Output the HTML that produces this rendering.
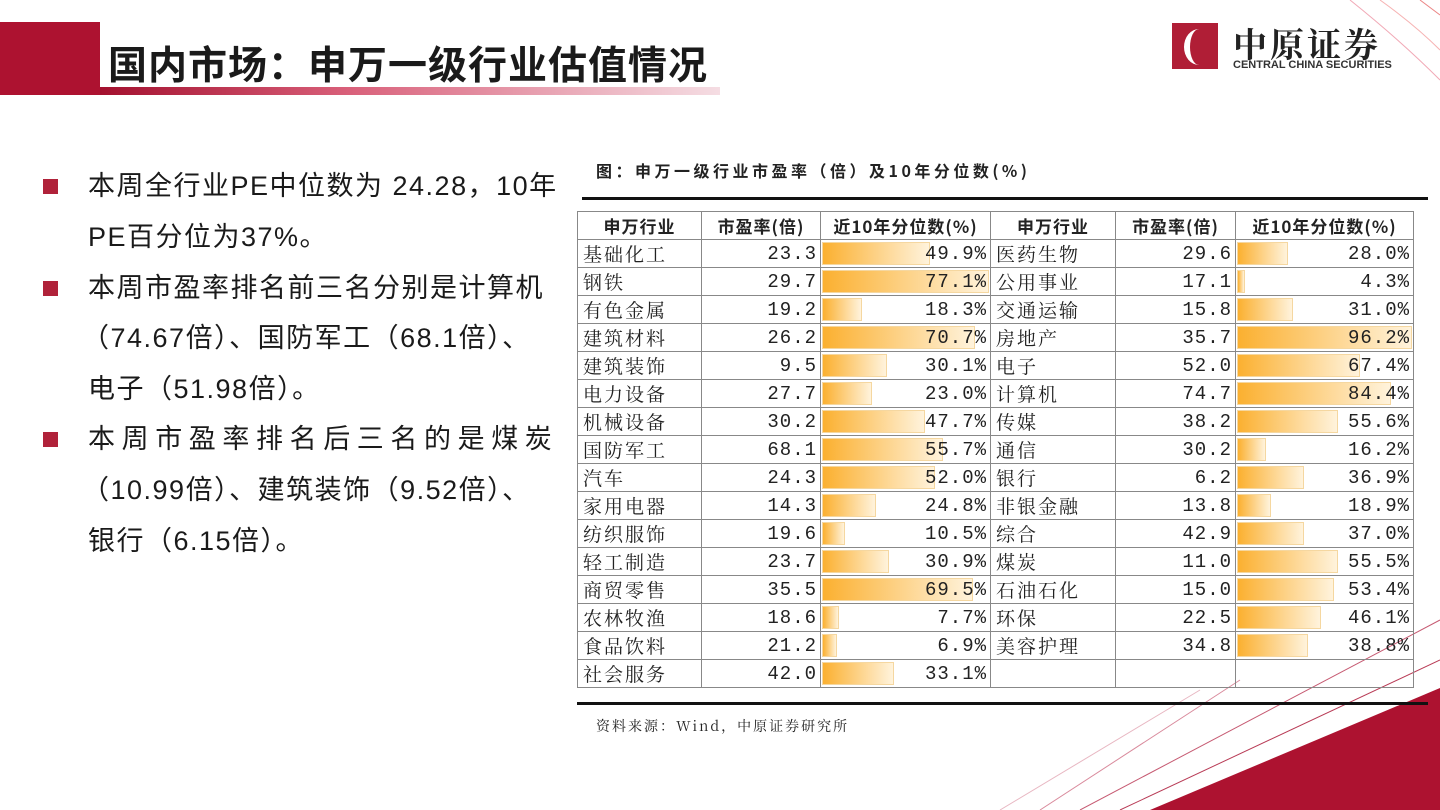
<!DOCTYPE html>
<html><head><meta charset="utf-8"><style>
*{margin:0;padding:0;box-sizing:border-box}
body{width:1440px;height:810px;position:relative;overflow:hidden;background:#fff;font-family:"Liberation Sans","Noto Sans CJK SC",sans-serif;color:#222}
.abs{position:absolute}
.ln{position:absolute;left:88px;font-size:27px;letter-spacing:1.5px;line-height:32px;white-space:nowrap;color:#1a1a1a}
.sq{position:absolute;left:43px;width:15px;height:15px;background:#b0223a}
table{position:absolute;left:577px;top:211px;border-collapse:collapse;font-family:"Noto Serif CJK SC","Liberation Serif",serif;font-size:19px}
td{border:1px solid #888;height:28px;padding:0 5px;white-space:nowrap;position:relative;line-height:26px;letter-spacing:2px}
th{border:1px solid #888;height:28px;font-family:"Noto Sans CJK SC",sans-serif;font-size:17px;font-weight:bold;white-space:nowrap;letter-spacing:1px}
td.n{text-align:right;font-family:"Liberation Mono","Noto Serif CJK SC",monospace;font-size:19px;letter-spacing:1px;padding-right:3px}
.bar{position:absolute;left:1px;top:2px;bottom:2px;background:linear-gradient(90deg,#fbb030,#fff3dc);border:1px solid #f5d7a0}
td span{position:relative}
</style></head><body>
<div class="abs" style="left:0;top:22px;width:100px;height:73px;background:#ad1230"></div>
<div class="abs" style="left:100px;top:87px;width:620px;height:8px;background:linear-gradient(90deg,#a3102e,#d9607a 40%,#f5dde3)"></div>
<div class="abs" style="left:108px;top:38px;font-size:39px;font-weight:bold;color:#1a1a1a;font-family:'Noto Sans CJK SC',sans-serif;line-height:50px;letter-spacing:1px">国内市场：申万一级行业估值情况</div>
<div class="abs" style="left:1172px;top:23px;width:46px;height:46px;background:#b01e36"><div style="position:absolute;left:12px;top:6px;width:30px;height:36px;border-left:6px solid #fff;border-radius:50% 0 0 50%"></div></div>
<div class="abs" style="left:1233px;top:18px;font-size:34px;font-family:'Noto Serif CJK SC',serif;font-weight:bold;letter-spacing:3px;color:#222">中原证券</div>
<div class="abs" style="left:1233px;top:59px;font-size:11px;font-weight:bold;color:#333">CENTRAL CHINA SECURITIES</div>
<svg class="abs" style="left:0;top:0" width="1440" height="810">
<path d="M1350 0 Q1400 40 1440 80" stroke="#f1a9b6" fill="none"/>
<path d="M1380 0 Q1415 25 1440 50" stroke="#e66" fill="none" opacity=".5"/>
<path d="M1420 0 L1440 15" stroke="#d33" fill="none" opacity=".6"/>
<path d="M1000 810 L1200 690" stroke="#e8b7c2" fill="none"/>
<path d="M1040 810 L1240 680" stroke="#d98a9c" fill="none"/>
<path d="M1080 810 L1440 620" stroke="#c65a72" fill="none"/>
<path d="M1120 810 L1440 660" stroke="#b83a55" fill="none"/>
<polygon points="1150,810 1440,688 1440,810" fill="#ad1230"/>
</svg>
<div class="sq" style="top:179px"></div>
<div class="sq" style="top:281px"></div>
<div class="sq" style="top:432px"></div>
<div class="ln" style="top:170px">本周全行业PE中位数为 24.28，10年</div>
<div class="ln" style="top:221px">PE百分位为37%。</div>
<div class="ln" style="top:272px">本周市盈率排名前三名分别是计算机</div>
<div class="ln" style="top:322px;left:82px">（74.67倍）、国防军工（68.1倍）、</div>
<div class="ln" style="top:373px">电子（51.98倍）。</div>
<div class="ln" style="top:423px;letter-spacing:6.6px">本周市盈率排名后三名的是煤炭</div>
<div class="ln" style="top:474px;left:82px">（10.99倍）、建筑装饰（9.52倍）、</div>
<div class="ln" style="top:525px">银行（6.15倍）。</div>
<div class="abs" style="left:596px;top:158px;font-size:16px;font-weight:bold;letter-spacing:3.5px;font-family:'Noto Sans CJK SC',sans-serif">图：申万一级行业市盈率（倍）及10年分位数(%)</div>
<div class="abs" style="left:582px;top:197px;width:846px;height:3px;background:#111"></div>
<div class="abs" style="left:577px;top:702px;width:851px;height:3px;background:#111"></div>
<div class="abs" style="left:596px;top:716px;font-size:14px;letter-spacing:2px;font-family:'Noto Serif CJK SC',serif">资料来源：Wind，中原证券研究所</div>
<table id="tbl">
<colgroup><col style="width:124px"><col style="width:119px"><col style="width:170px"><col style="width:125px"><col style="width:120px"><col style="width:178px"></colgroup>
<tr><th>申万行业</th><th>市盈率(倍)</th><th>近10年分位数(%)</th><th>申万行业</th><th>市盈率(倍)</th><th>近10年分位数(%)</th></tr>
</table>
<script>
const leftNames=["基础化工","钢铁","有色金属","建筑材料","建筑装饰","电力设备","机械设备","国防军工","汽车","家用电器","纺织服饰","轻工制造","商贸零售","农林牧渔","食品饮料","社会服务"];
const leftPE=[23.3,29.7,19.2,26.2,9.5,27.7,30.2,68.1,24.3,14.3,19.6,23.7,35.5,18.6,21.2,42.0];
const leftPct=[49.9,77.1,18.3,70.7,30.1,23.0,47.7,55.7,52.0,24.8,10.5,30.9,69.5,7.7,6.9,33.1];
const rightNames=["医药生物","公用事业","交通运输","房地产","电子","计算机","传媒","通信","银行","非银金融","综合","煤炭","石油石化","环保","美容护理"];
const rightPE=[29.6,17.1,15.8,35.7,52.0,74.7,38.2,30.2,6.2,13.8,42.9,11.0,15.0,22.5,34.8];
const rightPct=[28.0,4.3,31.0,96.2,67.4,84.4,55.6,16.2,36.9,18.9,37.0,55.5,53.4,46.1,38.8];
const tbl=document.getElementById('tbl');
const lmax=Math.max(...leftPct), rmax=Math.max(...rightPct);
function cell(tr,txt,cls){const td=document.createElement('td');if(cls)td.className=cls;td.textContent=txt;


tr.appendChild(td);return td;}
function pct(tr,v,max,w){const td=cell(tr,'', 'n');if(v==null)return;const b=document.createElement('div');b.className='bar';


b.style.width=((w-3)*v/max)+'px';td.appendChild(b);const s=document.createElement('span');s.textContent=v.toFixed(1)+'%';td.appendChild(s);}
for(let i=0;i<leftNames.length;i++){const tr=document.createElement('tr');


cell(tr,leftNames[i]);cell(tr,leftPE[i].toFixed(1),'n');pct(tr,leftPct[i],lmax,170);
cell(tr,rightNames[i]||'');cell(tr,rightPE[i]!=null?rightPE[i].toFixed(1):'','n');pct(tr,rightPct[i],rmax,178);
tbl.appendChild(tr);}
</script>
</body></html>
